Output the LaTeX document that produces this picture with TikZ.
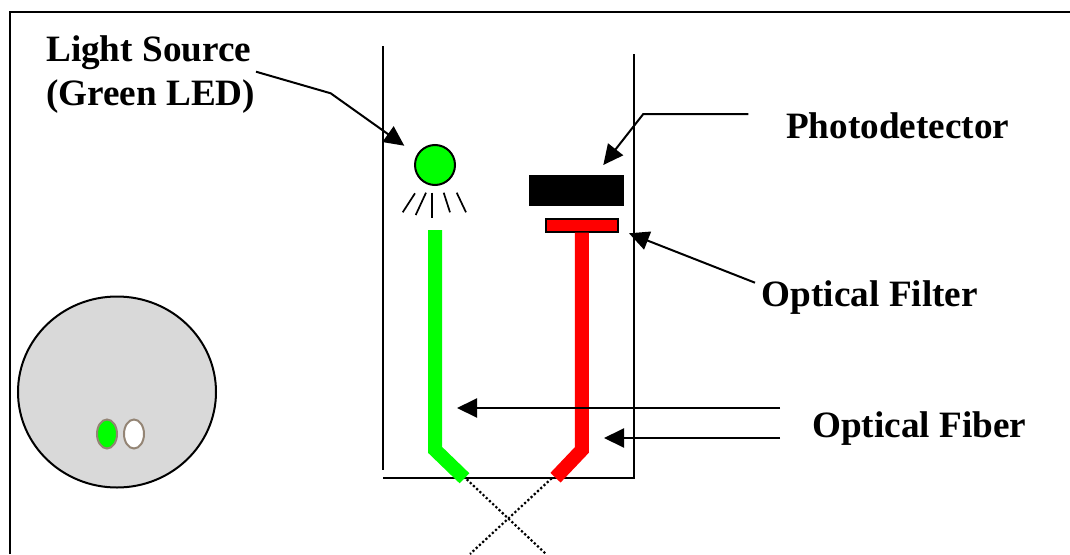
\documentclass[tikz,border=0pt]{standalone}
\usepackage{fontspec}
\setmainfont{Liberation Serif}
\usetikzlibrary{positioning,arrows.meta,shapes.geometric}

\begin{document}
\begin{tikzpicture}[
  x=1pt, y=-1pt,
  font=\fontsize{37.2}{44}\selectfont\bfseries,
  lab/.style={inner sep=0pt, anchor=base west, align=left},
  rule/.style={line width=2pt},
  arr/.style={rule, -{Triangle[length=20pt,width=19pt]}},
  ray/.style={line width=1.7pt},
  fibre/.style={line width=14pt, line join=miter},
  core/.style={ellipse, draw=black!60!brown!60, line width=2pt, minimum width=20pt, minimum height=29pt, inner sep=0pt},
  beam/.style={line width=2.2pt, dash pattern=on 2.2pt off 2.2pt}]
  \useasboundingbox (0,0) rectangle (1070,554);
  % frame and holder
  \coordinate (frameb) at (9.5,554);
  \coordinate (framec) at (9.5,12);
  \coordinate (framer) at (1070,12);
  \draw[rule] (frameb) -- (framec) -- (framer);
  \coordinate (holdl) at (383,46);
  \coordinate (holdlb) at (383,470);
  \coordinate (holdr) at (633.5,54);
  \coordinate (holdrb) at (633.5,478);
  \coordinate (holdb) at (383,478);
  \draw[rule] (holdl) -- (holdlb);
  \draw[rule] (holdr) -- (holdrb) -- (holdb);
  % source, detector, filter
  \node[circle, draw, fill=green, line width=2pt, minimum size=40pt, inner sep=0pt] (led) at (435,165) {};
  \coordinate (rayAa) at (415,193.3);   \coordinate (rayAb) at (402.7,212.3);
  \coordinate (rayBa) at (426,192.7);   \coordinate (rayBb) at (415.7,215);
  \coordinate (rayCa) at (432.3,192.7); \coordinate (rayCb) at (432.3,217.7);
  \coordinate (rayDa) at (443.7,192.7); \coordinate (rayDb) at (450,212.3);
  \coordinate (rayEa) at (456.7,192.7); \coordinate (rayEb) at (466,212.3);
  \foreach \r in {A,B,C,D,E}
    \draw[ray] (ray\r a) -- (ray\r b);
  \node[fill=black, minimum width=95pt, minimum height=31.5pt, inner sep=0pt] (det) at (576.5,190.3) {};
  \node[draw, fill=red, line width=2pt, minimum width=72pt, minimum height=12.5pt, inner sep=0pt] (filt) at (582.3,225.7) {};
  % fibres
  \coordinate (gtop) at (435.2,230);
  \coordinate (gbend) at (435.2,450);
  \coordinate (gend) at (464.5,478.3);
  \coordinate (rtop) at (581.8,232.5);
  \coordinate (rbend) at (581.8,450);
  \coordinate (rend) at (555.5,477.7);
  \draw[fibre, green] (gtop) -- (gbend) -- (gend);
  \draw[fibre, red] (rtop) -- (rbend) -- (rend);
  \coordinate (gbeam) at (466.7,479.3);
  \coordinate (gfar) at (546,554);
  \coordinate (rbeam) at (551.7,478.3);
  \coordinate (rfar) at (470,554);
  \draw[beam] (gbeam) -- (gfar);
  \draw[beam] (rbeam) -- (rfar);
  % end view
  \node[ellipse, draw, fill=black!15, line width=2pt, minimum width=198pt, minimum height=191pt, inner sep=0pt] (end) at (117,392) {};
  \node[core, fill=green] (cgreen) at (107,434) {};
  \node[core, fill=white, right=5pt of cgreen] (cwhite) {};
  % labels
  \node[lab] (src) at (46,61) {Light Source};
  \node[lab] (srcb) at (46,105) {(Green LED)};
  \node[lab] (pd) at (786,138.5) {Photodetector};
  \node[lab] (of) at (761.7,306) {Optical Filter};
  \node[lab] (ofb) at (812,437.7) {Optical Fiber};
  % leaders
  \coordinate (srcs) at (256,71.7);
  \coordinate (srcm) at (330.7,93.3);
  \coordinate (srct) at (404.3,145.7);
  \coordinate (pds) at (748.3,114);
  \coordinate (pdm) at (643.3,114);
  \coordinate (pdt) at (603.3,165);
  \coordinate (ofs) at (755,282.7);
  \coordinate (oft) at (629,233.3);
  \coordinate (fbs) at (780,408);
  \coordinate (fbt) at (457,408);
  \coordinate (fcs) at (780,438);
  \coordinate (fct) at (604,438);
  \draw[arr] (srcs) -- (srcm) -- (srct);
  \draw[arr] (pds) -- (pdm) -- (pdt);
  \draw[arr] (ofs) -- (oft);
  \draw[arr] (fbs) -- (fbt);
  \draw[arr] (fcs) -- (fct);
\end{tikzpicture}
\end{document}
